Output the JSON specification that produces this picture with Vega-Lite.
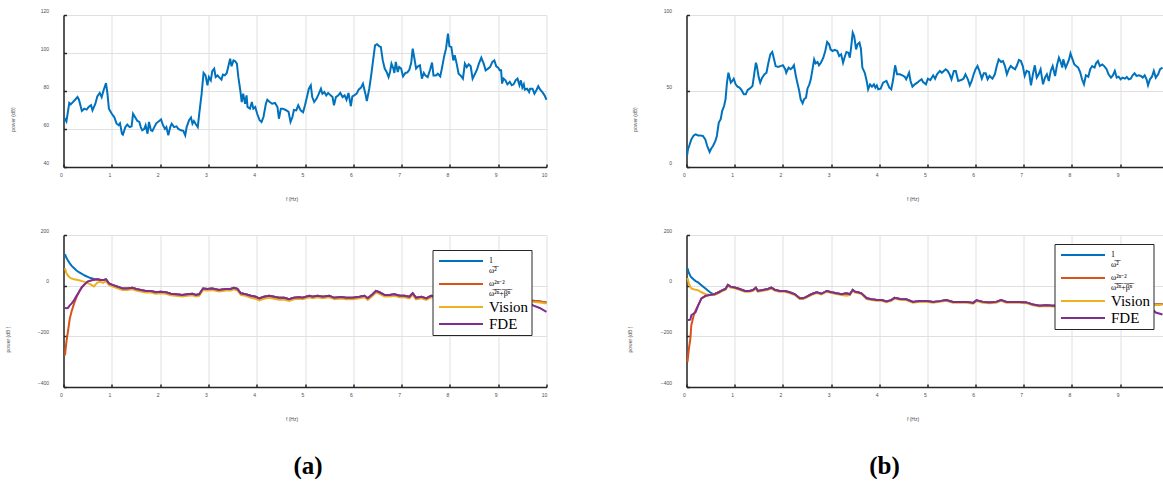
{
  "$schema": "https://vega.github.io/schema/vega-lite/v6.json",
  "background": "white",
  "padding": {"left": 5.5, "top": 8, "right": 0, "bottom": 0},
  "columns": 2,
  "spacing": {"row": 68, "column": 140},
  "bounds": "flush",
  "resolve": {"scale": {"color": "independent"}, "legend": {"color": "independent"}},
  "config": {
    "font": "Liberation Sans",
    "view": {"stroke": null},
    "axis": {
      "labelFontSize": 5, "titleFontSize": 5, "labelColor": "#4d4d4d", "titleColor": "#4d4d4d",
      "titleFontWeight": "normal", "gridColor": "#e0e0e0", "gridWidth": 1,
      "domainColor": "#262626", "domainWidth": 1.5, "tickColor": "#262626", "tickSize": -3, "tickWidth": 1.5,
      "labelFlush": false, "labelOverlap": false, "titleAlign": "center", "titleBaseline": "middle"
    },
    "axisX": {"labelPadding": 8, "labelOffset": -2.5, "titleX": 228, "titleY": 31, "titleAngle": 0},
    "axisY": {"labelPadding": 18, "labelOffset": -5, "titleY": 104, "titleAngle": -90},
    "legend": {
      "title": null, "orient": "top-right", "strokeColor": "#262626", "fillColor": "white",
      "padding": 2.5, "symbolType": "stroke", "symbolSize": 1936, "symbolStrokeWidth": 2, "symbolOffset": 3,
      "clipHeight": 17, "rowPadding": 0, "labelFont": "Liberation Serif", "labelColor": "black", "labelOffset": 5
    },
    "line": {"strokeWidth": 2}
  },
  "datasets": {
    "topA": [
      {"f":0.01,"p":66},{"f":0.06,"p":64},{"f":0.12,"p":73.7},{"f":0.15,"p":73},{"f":0.19,"p":74},{"f":0.24,"p":75.4},{"f":0.29,"p":76.8},{"f":0.32,"p":75.4},{"f":0.38,"p":69.5},{"f":0.43,"p":70.7},{"f":0.48,"p":70.2},{"f":0.52,"p":71.6},{"f":0.57,"p":72.5},{"f":0.60,"p":69.8},{"f":0.66,"p":73.3},{"f":0.70,"p":77.2},{"f":0.75,"p":79},{"f":0.79,"p":76.8},{"f":0.83,"p":80.4},{"f":0.88,"p":84.2},{"f":0.91,"p":78.6},{"f":0.94,"p":70.7},{"f":1.00,"p":68},{"f":1.05,"p":66.3},{"f":1.10,"p":62.8},{"f":1.14,"p":62},{"f":1.17,"p":63},{"f":1.21,"p":57.5},{"f":1.23,"p":57},{"f":1.28,"p":61},{"f":1.32,"p":62.3},{"f":1.37,"p":61},{"f":1.41,"p":61.4},{"f":1.44,"p":68},{"f":1.48,"p":66.3},{"f":1.53,"p":64.2},{"f":1.57,"p":63.7},{"f":1.60,"p":61},{"f":1.63,"p":59.3},{"f":1.67,"p":60},{"f":1.70,"p":62},{"f":1.74,"p":57.5},{"f":1.77,"p":63.7},{"f":1.81,"p":59.3},{"f":1.84,"p":59},{"f":1.88,"p":61},{"f":1.92,"p":63},{"f":1.98,"p":64.2},{"f":2.02,"p":65},{"f":2.06,"p":62},{"f":2.10,"p":60},{"f":2.13,"p":61},{"f":2.17,"p":56.7},{"f":2.21,"p":61},{"f":2.24,"p":62.8},{"f":2.29,"p":61},{"f":2.34,"p":61.4},{"f":2.38,"p":60},{"f":2.43,"p":59.3},{"f":2.48,"p":59},{"f":2.52,"p":56.7},{"f":2.55,"p":61},{"f":2.60,"p":64.6},{"f":2.64,"p":66},{"f":2.67,"p":62.8},{"f":2.70,"p":64.2},{"f":2.74,"p":62.5},{"f":2.78,"p":61},{"f":2.81,"p":68},{"f":2.86,"p":78.6},{"f":2.90,"p":89.5},{"f":2.94,"p":88.2},{"f":2.98,"p":83},{"f":3.01,"p":87.3},{"f":3.05,"p":85.6},{"f":3.08,"p":90.5},{"f":3.12,"p":91.8},{"f":3.15,"p":87.3},{"f":3.19,"p":88.2},{"f":3.22,"p":87.3},{"f":3.27,"p":86},{"f":3.30,"p":88.6},{"f":3.34,"p":88.2},{"f":3.38,"p":89.5},{"f":3.41,"p":92.6},{"f":3.45,"p":97},{"f":3.48,"p":93},{"f":3.52,"p":96.1},{"f":3.55,"p":95.8},{"f":3.59,"p":94.4},{"f":3.62,"p":87.3},{"f":3.66,"p":80.4},{"f":3.69,"p":74.2},{"f":3.72,"p":78.6},{"f":3.76,"p":73.3},{"f":3.79,"p":77.7},{"f":3.81,"p":71.6},{"f":3.86,"p":70.7},{"f":3.90,"p":74.2},{"f":3.93,"p":70.7},{"f":3.97,"p":71.6},{"f":4.01,"p":68},{"f":4.06,"p":64.6},{"f":4.10,"p":63.7},{"f":4.14,"p":66.3},{"f":4.19,"p":73.3},{"f":4.22,"p":75.4},{"f":4.27,"p":74.2},{"f":4.32,"p":73.3},{"f":4.38,"p":73.7},{"f":4.43,"p":71.6},{"f":4.46,"p":65.4},{"f":4.50,"p":70.7},{"f":4.54,"p":70.7},{"f":4.60,"p":70},{"f":4.66,"p":69},{"f":4.70,"p":63.7},{"f":4.74,"p":66.3},{"f":4.77,"p":70},{"f":4.82,"p":69.8},{"f":4.86,"p":72.5},{"f":4.91,"p":69.8},{"f":4.96,"p":68.8},
      {"f":5.00,"p":72.5},{"f":5.04,"p":76.8},{"f":5.08,"p":81.2},{"f":5.12,"p":83},{"f":5.15,"p":76.8},{"f":5.19,"p":74.2},{"f":5.24,"p":76},{"f":5.28,"p":78.2},{"f":5.33,"p":81.2},{"f":5.36,"p":78.6},{"f":5.40,"p":79.5},{"f":5.44,"p":77.7},{"f":5.48,"p":79},{"f":5.53,"p":77.7},{"f":5.57,"p":76.8},{"f":5.60,"p":72.5},{"f":5.64,"p":76.8},{"f":5.69,"p":77.7},{"f":5.73,"p":79},{"f":5.78,"p":76.8},{"f":5.82,"p":77.7},{"f":5.86,"p":75.4},{"f":5.90,"p":79},{"f":5.95,"p":72},{"f":5.98,"p":77.2},{"f":6.02,"p":77.7},{"f":6.07,"p":78.6},{"f":6.11,"p":80.7},{"f":6.16,"p":81.8},{"f":6.20,"p":83.9},{"f":6.25,"p":78.6},{"f":6.28,"p":74.7},{"f":6.33,"p":81.2},{"f":6.37,"p":88.2},{"f":6.41,"p":96.1},{"f":6.45,"p":104},{"f":6.49,"p":104.6},{"f":6.54,"p":103.5},{"f":6.57,"p":103.2},{"f":6.61,"p":96.1},{"f":6.65,"p":91.8},{"f":6.69,"p":90},{"f":6.73,"p":87.3},{"f":6.76,"p":90},{"f":6.79,"p":94.4},{"f":6.83,"p":91.8},{"f":6.85,"p":89.5},{"f":6.88,"p":95.3},{"f":6.92,"p":90},{"f":6.95,"p":92.6},{"f":6.99,"p":91.8},{"f":7.03,"p":87.7},{"f":7.08,"p":89.5},{"f":7.12,"p":89.8},{"f":7.16,"p":91.2},{"f":7.20,"p":95},{"f":7.23,"p":102.3},{"f":7.26,"p":97.9},{"f":7.30,"p":91.8},{"f":7.34,"p":93},{"f":7.38,"p":93.5},{"f":7.42,"p":86.5},{"f":7.46,"p":89.5},{"f":7.49,"p":88.2},{"f":7.54,"p":87.3},{"f":7.59,"p":91.2},{"f":7.63,"p":95},{"f":7.66,"p":88.2},{"f":7.71,"p":88.2},{"f":7.75,"p":89.1},{"f":7.80,"p":87.7},{"f":7.84,"p":92.6},{"f":7.88,"p":98.2},{"f":7.92,"p":102.3},{"f":7.96,"p":110.2},{"f":7.99,"p":103.5},{"f":8.03,"p":103.2},{"f":8.07,"p":96.1},{"f":8.10,"p":98.8},{"f":8.14,"p":94.4},{"f":8.18,"p":89.1},{"f":8.22,"p":88.2},{"f":8.27,"p":86.5},{"f":8.31,"p":94.4},{"f":8.35,"p":92.6},{"f":8.39,"p":94},{"f":8.43,"p":93},{"f":8.47,"p":86.5},{"f":8.52,"p":89.1},{"f":8.56,"p":91.2},{"f":8.60,"p":94.4},{"f":8.65,"p":97.5},{"f":8.70,"p":94.4},{"f":8.74,"p":90.9},{"f":8.79,"p":91.8},{"f":8.83,"p":92.6},{"f":8.88,"p":95.3},{"f":8.92,"p":96.1},{"f":8.96,"p":93},{"f":9.00,"p":92.3},{"f":9.03,"p":90.9},{"f":9.06,"p":90.9},{"f":9.08,"p":83.9},{"f":9.11,"p":86.5},{"f":9.15,"p":85.6},{"f":9.19,"p":83.5},{"f":9.24,"p":84.8},{"f":9.28,"p":83},{"f":9.32,"p":83.5},{"f":9.36,"p":85.6},{"f":9.40,"p":86.5},{"f":9.44,"p":83},{"f":9.47,"p":85.6},{"f":9.50,"p":81.8},{"f":9.53,"p":83.5},{"f":9.55,"p":80.7},{"f":9.60,"p":81.2},{"f":9.64,"p":79.5},{"f":9.66,"p":81.2},{"f":9.71,"p":81.2},{"f":9.75,"p":78.6},{"f":9.79,"p":80.4},{"f":9.83,"p":82.5},{"f":9.87,"p":80.7},{"f":9.91,"p":79.5},{"f":9.96,"p":77.7},{"f":10.00,"p":75.4}
    ],
    "topB": [
      {"f":0.01,"p":7.2},{"f":0.03,"p":11.6},{"f":0.06,"p":14.3},{"f":0.10,"p":18.2},{"f":0.15,"p":20.8},{"f":0.19,"p":21.5},{"f":0.24,"p":20.8},{"f":0.28,"p":20.8},{"f":0.34,"p":20.4},{"f":0.39,"p":18.2},{"f":0.43,"p":13.8},{"f":0.48,"p":9.9},{"f":0.51,"p":12},{"f":0.55,"p":13.8},{"f":0.60,"p":17.1},{"f":0.63,"p":20.4},{"f":0.67,"p":29.2},{"f":0.71,"p":31.4},{"f":0.74,"p":36.8},{"f":0.78,"p":40.1},{"f":0.81,"p":44.5},{"f":0.84,"p":55.5},{"f":0.87,"p":62},{"f":0.92,"p":55.5},{"f":0.95,"p":56.6},{"f":0.98,"p":58.1},{"f":1.02,"p":54.4},{"f":1.06,"p":52.9},{"f":1.10,"p":52.2},{"f":1.14,"p":50.7},{"f":1.19,"p":47.8},{"f":1.23,"p":47.8},{"f":1.27,"p":50.7},{"f":1.31,"p":51.5},{"f":1.37,"p":53.3},{"f":1.40,"p":59.9},{"f":1.44,"p":68.6},{"f":1.46,"p":66.4},{"f":1.50,"p":58.8},{"f":1.53,"p":55.5},{"f":1.57,"p":58.8},{"f":1.62,"p":61},{"f":1.66,"p":62},{"f":1.70,"p":68.6},{"f":1.74,"p":74.1},{"f":1.78,"p":75.7},{"f":1.81,"p":71.9},{"f":1.85,"p":66.4},{"f":1.90,"p":65.8},{"f":1.95,"p":66.4},{"f":2.00,"p":66.9},{"f":2.05,"p":64.3},{"f":2.07,"p":62},{"f":2.12,"p":65.4},{"f":2.16,"p":64.3},{"f":2.20,"p":65.4},{"f":2.23,"p":66.9},{"f":2.27,"p":59.9},{"f":2.30,"p":55.5},{"f":2.34,"p":50},{"f":2.37,"p":44.5},{"f":2.41,"p":41.9},{"f":2.44,"p":44.5},{"f":2.48,"p":45.6},{"f":2.51,"p":51.5},{"f":2.55,"p":54.4},{"f":2.58,"p":57.7},{"f":2.61,"p":63.2},{"f":2.65,"p":70.8},{"f":2.68,"p":68.2},{"f":2.72,"p":69.1},{"f":2.75,"p":66.9},{"f":2.79,"p":68.6},{"f":2.84,"p":71.9},{"f":2.88,"p":76.3},{"f":2.92,"p":82.2},{"f":2.96,"p":80.7},{"f":2.99,"p":77.4},{"f":3.03,"p":76.3},{"f":3.08,"p":77},{"f":3.13,"p":76.3},{"f":3.17,"p":73},{"f":3.21,"p":74.1},{"f":3.25,"p":68.6},{"f":3.29,"p":73},{"f":3.32,"p":75.7},{"f":3.36,"p":75.2},{"f":3.39,"p":71.9},{"f":3.42,"p":79.6},{"f":3.45,"p":88.4},{"f":3.48,"p":86.2},{"f":3.52,"p":77.4},{"f":3.55,"p":80.7},{"f":3.59,"p":81.8},{"f":3.62,"p":77.8},{"f":3.65,"p":65.4},{"f":3.70,"p":62},{"f":3.74,"p":56.6},{"f":3.77,"p":51.1},{"f":3.81,"p":54.4},{"f":3.85,"p":52.9},{"f":3.89,"p":54.4},{"f":3.92,"p":52.2},{"f":3.95,"p":53.7},{"f":3.98,"p":51.1},{"f":4.03,"p":51.5},
      {"f":4.08,"p":55.5},{"f":4.15,"p":56.6},{"f":4.21,"p":52.2},{"f":4.25,"p":51.1},{"f":4.29,"p":57.7},{"f":4.33,"p":66.9},{"f":4.37,"p":61},{"f":4.43,"p":61},{"f":4.48,"p":60.3},{"f":4.53,"p":59.4},{"f":4.56,"p":57.7},{"f":4.62,"p":62},{"f":4.65,"p":56.6},{"f":4.69,"p":52.9},{"f":4.74,"p":54.4},{"f":4.79,"p":55.5},{"f":4.83,"p":56.6},{"f":4.88,"p":57.7},{"f":4.91,"p":55.9},{"f":4.97,"p":54.4},{"f":5.01,"p":58.1},{"f":5.06,"p":57.2},{"f":5.12,"p":60.3},{"f":5.16,"p":58.1},{"f":5.20,"p":61},{"f":5.26,"p":63.2},{"f":5.30,"p":62},{"f":5.34,"p":63.2},{"f":5.38,"p":64.3},{"f":5.42,"p":63.2},{"f":5.46,"p":61},{"f":5.50,"p":57.7},{"f":5.55,"p":63.2},{"f":5.59,"p":63.2},{"f":5.64,"p":56.6},{"f":5.70,"p":57.2},{"f":5.75,"p":58.1},{"f":5.79,"p":61},{"f":5.84,"p":57.7},{"f":5.88,"p":53.7},{"f":5.92,"p":56.6},{"f":5.96,"p":61},{"f":6.00,"p":64.3},{"f":6.04,"p":66.4},{"f":6.08,"p":63.2},{"f":6.13,"p":58.1},{"f":6.17,"p":61.6},{"f":6.21,"p":61.6},{"f":6.25,"p":57.7},{"f":6.29,"p":59.9},{"f":6.35,"p":58.1},{"f":6.40,"p":61},{"f":6.44,"p":66.4},{"f":6.48,"p":70.8},{"f":6.53,"p":69.1},{"f":6.57,"p":69.7},{"f":6.61,"p":66.4},{"f":6.65,"p":61},{"f":6.69,"p":64.3},{"f":6.73,"p":66.4},{"f":6.77,"p":65.4},{"f":6.82,"p":64.3},{"f":6.86,"p":66.9},{"f":6.90,"p":70.4},{"f":6.94,"p":69.7},{"f":6.98,"p":66.4},{"f":7.02,"p":59.9},{"f":7.06,"p":63.2},{"f":7.11,"p":62.5},{"f":7.15,"p":53.7},{"f":7.19,"p":61},{"f":7.23,"p":66.9},{"f":7.27,"p":58.8},{"f":7.31,"p":61},{"f":7.35,"p":64.3},{"f":7.40,"p":54.4},{"f":7.44,"p":58.8},{"f":7.48,"p":61},{"f":7.52,"p":56.6},{"f":7.56,"p":63.2},{"f":7.60,"p":66.4},{"f":7.65,"p":59.9},{"f":7.69,"p":66.9},{"f":7.73,"p":71.9},{"f":7.76,"p":69.7},{"f":7.80,"p":65.4},{"f":7.82,"p":70.8},{"f":7.87,"p":65.4},{"f":7.90,"p":67.5},{"f":7.94,"p":70.8},{"f":7.97,"p":74.8},{"f":8.00,"p":71.9},{"f":8.05,"p":67.5},{"f":8.09,"p":66.4},{"f":8.13,"p":65.4},{"f":8.17,"p":62.5},{"f":8.21,"p":57.7},{"f":8.25,"p":54.4},{"f":8.29,"p":60.3},{"f":8.34,"p":59.4},{"f":8.38,"p":64.3},{"f":8.42,"p":66.4},{"f":8.47,"p":65.4},{"f":8.50,"p":68.2},{"f":8.54,"p":69.7},{"f":8.58,"p":66.4},{"f":8.63,"p":67.5},{"f":8.67,"p":66.4},{"f":8.72,"p":64.3},{"f":8.76,"p":61},{"f":8.81,"p":58.8},{"f":8.85,"p":60.3},{"f":8.89,"p":63.2},{"f":8.93,"p":58.8},{"f":8.97,"p":59.4},{"f":9.01,"p":57.7},{"f":9.05,"p":58.8},{"f":9.10,"p":58.1},{"f":9.14,"p":59.2},{"f":9.18,"p":57.7},{"f":9.22,"p":58.1},{"f":9.26,"p":60.3},{"f":9.30,"p":61.6},{"f":9.34,"p":59.9},{"f":9.39,"p":60.3},{"f":9.43,"p":59.9},{"f":9.47,"p":58.8},{"f":9.51,"p":60.3},{"f":9.55,"p":57.7},{"f":9.58,"p":53.7},{"f":9.62,"p":57.7},{"f":9.66,"p":59.4},{"f":9.70,"p":63.2},{"f":9.74,"p":58.8},{"f":9.79,"p":61},{"f":9.83,"p":64.3},{"f":9.88,"p":65.4}
    ],
    "botA": [
      {"f":0.03,"a":124,"b":-275,"v":69,"d":-87},{"f":0.06,"a":110,"b":-222,"v":50,"d":-89},{"f":0.09,"a":100,"b":-183,"v":40,"d":-88},{"f":0.13,"a":88,"b":-130,"v":32,"d":-78},{"f":0.17,"a":78,"b":-100,"v":28,"d":-70},{"f":0.22,"a":69,"b":-70,"v":25,"d":-57},{"f":0.27,"a":60,"b":-45,"v":23,"d":-40},{"f":0.32,"a":53,"b":-25,"v":21,"d":-25},{"f":0.38,"a":47,"b":-6,"v":18,"d":-6},{"f":0.44,"a":40,"b":6,"v":15,"d":6},{"f":0.50,"a":35,"b":16,"v":10,"d":16},{"f":0.56,"a":30,"b":20,"v":5,"d":20},{"f":0.63,"a":26,"b":23,"v":-3,"d":23},{"f":0.70,"a":25,"b":25,"v":12,"d":25},{"f":0.77,"a":22,"b":22,"v":15,"d":22},{"f":0.82,"a":22,"b":22,"v":11,"d":22},{"f":0.88,"a":25,"b":25,"v":18,"d":25},{"f":0.94,"a":9,"b":9,"v":3,"d":9},
      {"f":1.01,"a":3,"b":3,"v":-3,"d":3},{"f":1.12,"a":-4,"b":-4,"v":-10,"d":-4},{"f":1.22,"a":-11,"b":-11,"v":-17,"d":-11},{"f":1.32,"a":-11,"b":-11,"v":-17,"d":-11},{"f":1.43,"a":-8,"b":-8,"v":-14,"d":-8},{"f":1.50,"a":-13,"b":-13,"v":-19,"d":-13},{"f":1.60,"a":-17,"b":-17,"v":-23,"d":-17},{"f":1.70,"a":-21,"b":-21,"v":-27,"d":-21},{"f":1.81,"a":-21,"b":-21,"v":-27,"d":-21},{"f":1.91,"a":-26,"b":-26,"v":-32,"d":-26},{"f":2.01,"a":-24,"b":-24,"v":-30,"d":-24},{"f":2.12,"a":-26,"b":-26,"v":-32,"d":-26},{"f":2.22,"a":-32,"b":-32,"v":-38,"d":-32},{"f":2.32,"a":-34,"b":-34,"v":-40,"d":-34},{"f":2.46,"a":-37,"b":-37,"v":-43,"d":-37},{"f":2.57,"a":-34,"b":-34,"v":-40,"d":-34},{"f":2.67,"a":-32,"b":-32,"v":-38,"d":-32},{"f":2.74,"a":-37,"b":-37,"v":-43,"d":-37},{"f":2.81,"a":-34,"b":-34,"v":-40,"d":-34},{"f":2.89,"a":-11,"b":-11,"v":-17,"d":-11},{"f":2.98,"a":-13,"b":-13,"v":-19,"d":-13},{"f":3.08,"a":-11,"b":-11,"v":-17,"d":-11},{"f":3.22,"a":-17,"b":-17,"v":-23,"d":-17},{"f":3.36,"a":-13,"b":-13,"v":-19,"d":-13},{"f":3.46,"a":-13,"b":-13,"v":-19,"d":-13},{"f":3.53,"a":-8,"b":-8,"v":-14,"d":-8},{"f":3.60,"a":-13,"b":-13,"v":-19,"d":-13},{"f":3.67,"a":-30,"b":-30,"v":-36,"d":-30},{"f":3.77,"a":-34,"b":-34,"v":-40,"d":-34},{"f":3.88,"a":-40,"b":-40,"v":-48,"d":-40},{"f":3.98,"a":-44,"b":-44,"v":-52,"d":-44},{"f":4.05,"a":-50,"b":-50,"v":-58,"d":-50},{"f":4.15,"a":-44,"b":-44,"v":-52,"d":-44},{"f":4.26,"a":-40,"b":-40,"v":-48,"d":-40},{"f":4.36,"a":-44,"b":-44,"v":-52,"d":-44},{"f":4.46,"a":-48,"b":-48,"v":-56,"d":-48},{"f":4.57,"a":-48,"b":-48,"v":-56,"d":-48},{"f":4.67,"a":-53,"b":-53,"v":-60,"d":-53},{"f":4.77,"a":-48,"b":-48,"v":-54,"d":-48},{"f":4.88,"a":-46,"b":-46,"v":-52,"d":-46},{"f":4.95,"a":-48,"b":-48,"v":-54,"d":-48},{"f":5.09,"a":-40,"b":-40,"v":-46,"d":-40},{"f":5.16,"a":-44,"b":-44,"v":-50,"d":-44},{"f":5.26,"a":-40,"b":-40,"v":-46,"d":-40},{"f":5.37,"a":-44,"b":-44,"v":-50,"d":-44},{"f":5.50,"a":-40,"b":-40,"v":-46,"d":-40},{"f":5.61,"a":-48,"b":-48,"v":-54,"d":-48},{"f":5.75,"a":-45,"b":-45,"v":-51,"d":-45},{"f":5.85,"a":-48,"b":-48,"v":-54,"d":-48},{"f":5.99,"a":-48,"b":-48,"v":-54,"d":-48},{"f":6.13,"a":-44,"b":-44,"v":-50,"d":-44},{"f":6.23,"a":-40,"b":-40,"v":-46,"d":-40},{"f":6.30,"a":-50,"b":-50,"v":-56,"d":-50},{"f":6.40,"a":-34,"b":-34,"v":-40,"d":-34},{"f":6.47,"a":-21,"b":-21,"v":-27,"d":-21},{"f":6.54,"a":-26,"b":-26,"v":-32,"d":-26},{"f":6.65,"a":-37,"b":-37,"v":-43,"d":-37},{"f":6.75,"a":-37,"b":-37,"v":-43,"d":-37},{"f":6.85,"a":-34,"b":-34,"v":-40,"d":-34},{"f":6.96,"a":-40,"b":-40,"v":-46,"d":-40},{"f":7.06,"a":-40,"b":-40,"v":-46,"d":-40},{"f":7.16,"a":-44,"b":-44,"v":-50,"d":-44},{"f":7.23,"a":-30,"b":-30,"v":-36,"d":-30},{"f":7.30,"a":-48,"b":-48,"v":-54,"d":-48},{"f":7.41,"a":-44,"b":-44,"v":-50,"d":-44},{"f":7.51,"a":-50,"b":-50,"v":-56,"d":-50},{"f":7.61,"a":-40,"b":-40,"v":-46,"d":-40},{"f":7.80,"a":-45,"b":-45,"v":-51,"d":-45},{"f":8.00,"a":-48,"b":-48,"v":-54,"d":-48},{"f":8.20,"a":-46,"b":-46,"v":-52,"d":-46},{"f":8.40,"a":-50,"b":-50,"v":-56,"d":-50},{"f":8.60,"a":-48,"b":-48,"v":-54,"d":-48},{"f":8.80,"a":-52,"b":-52,"v":-58,"d":-52},{"f":9.00,"a":-50,"b":-50,"v":-56,"d":-50},{"f":9.20,"a":-54,"b":-54,"v":-60,"d":-54},{"f":9.40,"a":-52,"b":-52,"v":-58,"d":-52},{"f":9.60,"a":-56,"b":-56,"v":-60,"d":-60},{"f":9.72,"a":-60,"b":-60,"v":-64,"d":-78},{"f":9.86,"a":-62,"b":-62,"v":-66,"d":-88},{"f":10.0,"a":-66,"b":-66,"v":-70,"d":-103}
    ],
    "botB": [
      {"f":0.02,"a":69,"b":-302,"v":30,"d":-136},{"f":0.05,"a":50,"b":-249,"v":8,"d":-136},{"f":0.08,"a":38,"b":-209,"v":-4,"d":-134},{"f":0.10,"a":33,"b":-156,"v":-11,"d":-117},{"f":0.15,"a":24,"b":-117,"v":-14,"d":-110},{"f":0.19,"a":18,"b":-97,"v":-16,"d":-104},{"f":0.24,"a":13,"b":-79,"v":-18,"d":-79},{"f":0.31,"a":2,"b":-50,"v":-26,"d":-50},{"f":0.40,"a":-12,"b":-40,"v":-34,"d":-40},{"f":0.48,"a":-25,"b":-37,"v":-37,"d":-37},{"f":0.55,"a":-33,"b":-35,"v":-36,"d":-35},
      {"f":0.58,"a":-34,"b":-34,"v":-37,"d":-34},{"f":0.67,"a":-26,"b":-26,"v":-29,"d":-26},{"f":0.76,"a":-17,"b":-17,"v":-20,"d":-17},{"f":0.81,"a":-13,"b":-13,"v":-16,"d":-13},{"f":0.86,"a":3,"b":3,"v":0,"d":3},{"f":0.91,"a":-4,"b":-4,"v":-7,"d":-4},{"f":1.00,"a":-7,"b":-7,"v":-10,"d":-7},{"f":1.10,"a":-13,"b":-13,"v":-16,"d":-13},{"f":1.21,"a":-21,"b":-21,"v":-24,"d":-21},{"f":1.31,"a":-21,"b":-21,"v":-24,"d":-21},{"f":1.38,"a":-17,"b":-17,"v":-20,"d":-17},{"f":1.44,"a":-8,"b":-8,"v":-11,"d":-8},{"f":1.48,"a":-21,"b":-21,"v":-24,"d":-21},{"f":1.59,"a":-17,"b":-17,"v":-20,"d":-17},{"f":1.69,"a":-13,"b":-13,"v":-16,"d":-13},{"f":1.76,"a":-8,"b":-8,"v":-11,"d":-8},{"f":1.83,"a":-16,"b":-16,"v":-19,"d":-16},{"f":1.93,"a":-21,"b":-21,"v":-24,"d":-21},{"f":2.04,"a":-21,"b":-21,"v":-24,"d":-21},{"f":2.14,"a":-26,"b":-26,"v":-29,"d":-26},{"f":2.25,"a":-34,"b":-34,"v":-37,"d":-34},{"f":2.35,"a":-50,"b":-50,"v":-53,"d":-50},{"f":2.42,"a":-50,"b":-50,"v":-53,"d":-50},{"f":2.49,"a":-44,"b":-44,"v":-47,"d":-44},{"f":2.59,"a":-34,"b":-34,"v":-37,"d":-34},{"f":2.70,"a":-26,"b":-26,"v":-29,"d":-26},{"f":2.80,"a":-32,"b":-32,"v":-35,"d":-32},{"f":2.91,"a":-21,"b":-21,"v":-24,"d":-21},{"f":3.01,"a":-26,"b":-26,"v":-29,"d":-26},{"f":3.11,"a":-30,"b":-30,"v":-33,"d":-30},{"f":3.22,"a":-34,"b":-34,"v":-37,"d":-34},{"f":3.32,"a":-30,"b":-30,"v":-40,"d":-30},{"f":3.39,"a":-34,"b":-34,"v":-37,"d":-34},{"f":3.45,"a":-17,"b":-17,"v":-20,"d":-17},{"f":3.50,"a":-24,"b":-24,"v":-27,"d":-24},{"f":3.56,"a":-26,"b":-26,"v":-29,"d":-26},{"f":3.63,"a":-30,"b":-30,"v":-33,"d":-30},{"f":3.74,"a":-50,"b":-50,"v":-53,"d":-50},{"f":3.84,"a":-54,"b":-54,"v":-57,"d":-54},{"f":3.95,"a":-57,"b":-57,"v":-60,"d":-57},{"f":4.05,"a":-57,"b":-57,"v":-60,"d":-57},{"f":4.15,"a":-62,"b":-62,"v":-65,"d":-62},{"f":4.25,"a":-57,"b":-57,"v":-60,"d":-57},{"f":4.32,"a":-48,"b":-48,"v":-51,"d":-48},{"f":4.43,"a":-53,"b":-53,"v":-56,"d":-53},{"f":4.56,"a":-54,"b":-54,"v":-57,"d":-54},{"f":4.70,"a":-64,"b":-64,"v":-67,"d":-64},{"f":4.84,"a":-61,"b":-61,"v":-64,"d":-61},{"f":4.98,"a":-61,"b":-61,"v":-64,"d":-61},{"f":5.12,"a":-64,"b":-64,"v":-67,"d":-64},{"f":5.26,"a":-61,"b":-61,"v":-64,"d":-61},{"f":5.39,"a":-57,"b":-57,"v":-60,"d":-57},{"f":5.53,"a":-64,"b":-64,"v":-67,"d":-64},{"f":5.67,"a":-64,"b":-64,"v":-67,"d":-64},{"f":5.81,"a":-64,"b":-64,"v":-67,"d":-64},{"f":5.95,"a":-68,"b":-68,"v":-71,"d":-68},{"f":6.02,"a":-58,"b":-58,"v":-61,"d":-58},{"f":6.15,"a":-64,"b":-64,"v":-67,"d":-64},{"f":6.29,"a":-66,"b":-66,"v":-69,"d":-66},{"f":6.43,"a":-64,"b":-64,"v":-67,"d":-64},{"f":6.53,"a":-57,"b":-57,"v":-60,"d":-57},{"f":6.64,"a":-64,"b":-64,"v":-67,"d":-64},{"f":6.77,"a":-64,"b":-64,"v":-67,"d":-64},{"f":6.91,"a":-64,"b":-64,"v":-67,"d":-64},{"f":7.05,"a":-66,"b":-66,"v":-69,"d":-66},{"f":7.19,"a":-74,"b":-74,"v":-77,"d":-74},{"f":7.33,"a":-79,"b":-79,"v":-82,"d":-79},{"f":7.47,"a":-77,"b":-77,"v":-80,"d":-77},{"f":7.60,"a":-79,"b":-79,"v":-82,"d":-79},{"f":7.80,"a":-78,"b":-78,"v":-81,"d":-78},{"f":8.00,"a":-80,"b":-80,"v":-83,"d":-80},{"f":8.20,"a":-79,"b":-79,"v":-82,"d":-79},{"f":8.40,"a":-82,"b":-82,"v":-85,"d":-82},{"f":8.60,"a":-80,"b":-80,"v":-83,"d":-80},{"f":8.80,"a":-83,"b":-83,"v":-86,"d":-83},{"f":9.00,"a":-82,"b":-82,"v":-85,"d":-82},{"f":9.20,"a":-84,"b":-84,"v":-87,"d":-84},{"f":9.40,"a":-80,"b":-80,"v":-83,"d":-80},{"f":9.60,"a":-76,"b":-76,"v":-78,"d":-80},{"f":9.74,"a":-74,"b":-74,"v":-76,"d":-106},{"f":9.88,"a":-72,"b":-72,"v":-74,"d":-114}
    ]
  },
  "concat": [
    {
      "width": 483, "height": 152,
      "data": {"name": "topA"},
      "mark": {"type": "line", "color": "#0072BD", "strokeWidth": 2},
      "encoding": {
        "x": {"field": "f", "type": "quantitative", "scale": {"domain": [0, 10], "nice": false},
              "axis": {"values": [0,1,2,3,4,5,6,7,8,9,10], "title": "f (Hz)"}},
        "y": {"field": "p", "type": "quantitative", "scale": {"domain": [40, 120], "nice": false},
              "axis": {"values": [40,60,80,100,120], "title": "power (dB)", "titleX": -51}}
      }
    },
    {
      "width": 476, "height": 152,
      "data": {"name": "topB"},
      "mark": {"type": "line", "color": "#0072BD", "strokeWidth": 2},
      "encoding": {
        "x": {"field": "f", "type": "quantitative", "scale": {"domain": [0, 9.88], "nice": false},
              "axis": {"values": [0,1,2,3,4,5,6,7,8,9], "title": "f (Hz)", "titleX": 226}},
        "y": {"field": "p", "type": "quantitative", "scale": {"domain": [0, 100], "nice": false},
              "axis": {"values": [0,50,100], "title": "power (dB)", "titleX": -52}}
      }
    },
    {
      "width": 483, "height": 152,
      "data": {"name": "botA"},
      "transform": [{"fold": ["a", "b", "v", "d"], "as": ["s", "p"]}],
      "mark": {"type": "line", "strokeWidth": 2},
      "encoding": {
        "x": {"field": "f", "type": "quantitative", "scale": {"domain": [0, 10], "nice": false},
              "axis": {"values": [0,1,2,3,4,5,6,7,8,9,10], "title": "f (Hz)"}},
        "y": {"field": "p", "type": "quantitative", "scale": {"domain": [-400, 200], "nice": false},
              "axis": {"values": [-400,-200,0,200], "title": "power (dB )", "titleX": -56}},
        "color": {"field": "s", "type": "nominal",
          "scale": {"domain": ["a","b","v","d"], "range": ["#0072BD","#D95319","#EDB120","#7E2F8E"]},
          "legend": {"offset": 15,
            "labelFontSize": {"expr": "datum.value == 'v' || datum.value == 'd' ? 15 : 8"},
            "labelExpr": "datum.value == 'a' ? ['1', 'ω\u0305\u00b2\u0305'] : datum.value == 'b' ? ['ω\u00b2\u207f\u207b\u00b2', 'ω\u0305\u00b2\u0305\u207f\u0305+\u0305β\u0305\u207f\u0305'] : datum.value == 'v' ? 'Vision' : 'FDE'"
          }
        }
      }
    },
    {
      "width": 476, "height": 152,
      "data": {"name": "botB"},
      "transform": [{"fold": ["a", "b", "v", "d"], "as": ["s", "p"]}],
      "mark": {"type": "line", "strokeWidth": 2},
      "encoding": {
        "x": {"field": "f", "type": "quantitative", "scale": {"domain": [0, 9.88], "nice": false},
              "axis": {"values": [0,1,2,3,4,5,6,7,8,9], "title": "f (Hz)", "titleX": 226}},
        "y": {"field": "p", "type": "quantitative", "scale": {"domain": [-400, 200], "nice": false},
              "axis": {"values": [-400,-200,0,200], "title": "power (dB )", "titleX": -57}},
        "color": {"field": "s", "type": "nominal",
          "scale": {"domain": ["a","b","v","d"], "range": ["#0072BD","#D95319","#EDB120","#7E2F8E"]},
          "legend": {"offset": 9,
            "labelFontSize": {"expr": "datum.value == 'v' || datum.value == 'd' ? 15 : 8"},
            "labelExpr": "datum.value == 'a' ? ['1', 'ω\u0305\u00b2\u0305'] : datum.value == 'b' ? ['ω\u00b2\u207f\u207b\u00b2', 'ω\u0305\u00b2\u0305\u207f\u0305+\u0305β\u0305\u207f\u0305'] : datum.value == 'v' ? 'Vision' : 'FDE'"
          }
        }
      }
    },
    {
      "width": 483, "height": 22,
      "data": {"values": [{"t": "(a)"}]},
      "mark": {"type": "text", "font": "Liberation Serif", "fontSize": 25, "fontWeight": "bold", "color": "black", "dx": 3},
      "encoding": {"text": {"field": "t"}}
    },
    {
      "width": 476, "height": 22,
      "data": {"values": [{"t": "(b)"}]},
      "mark": {"type": "text", "font": "Liberation Serif", "fontSize": 25, "fontWeight": "bold", "color": "black", "dx": -40},
      "encoding": {"text": {"field": "t"}}
    }
  ]
}
